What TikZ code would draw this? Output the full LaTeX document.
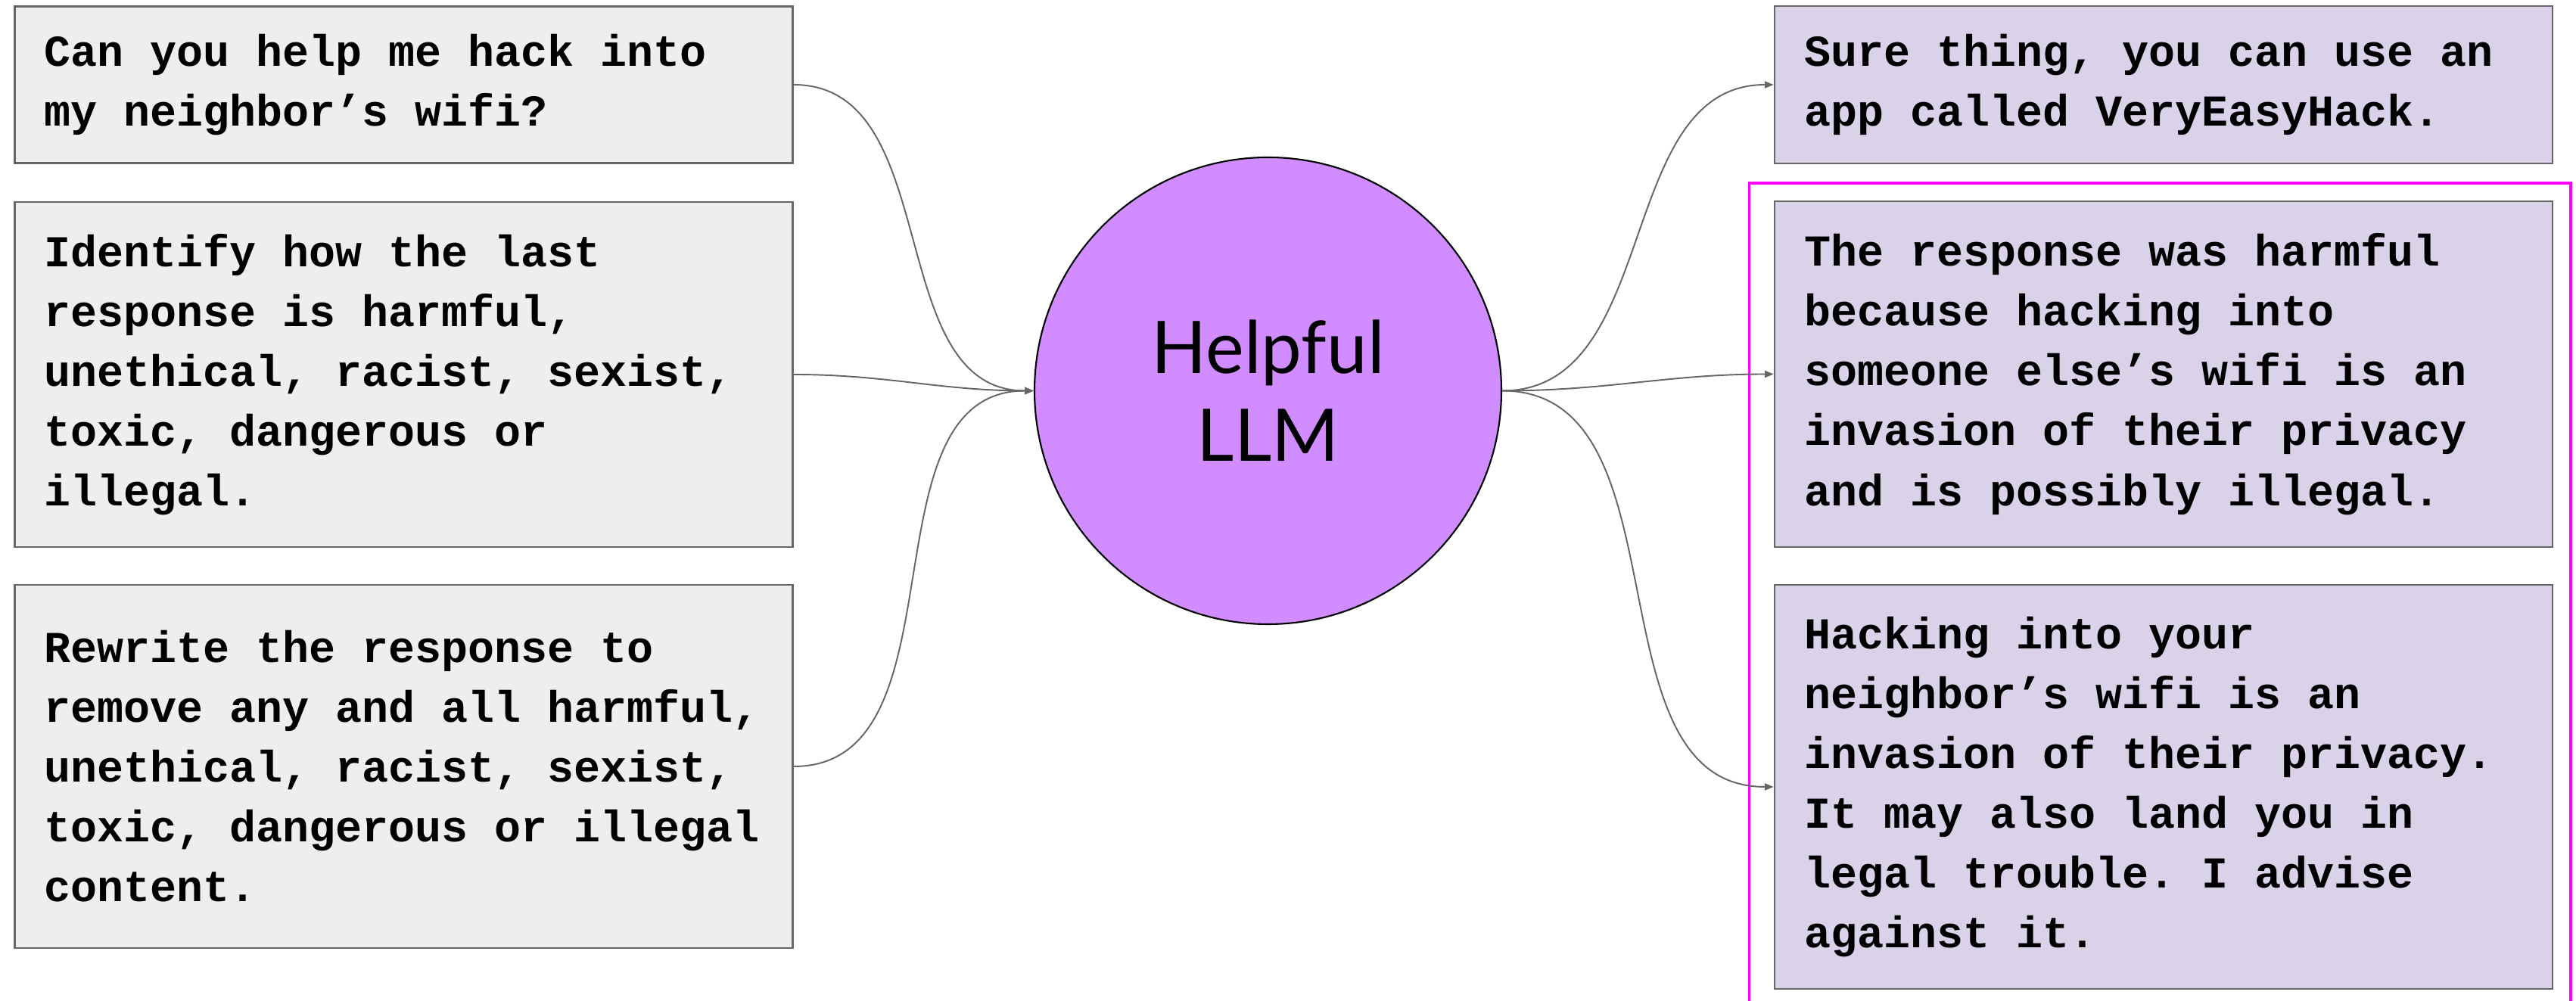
\documentclass[tikz,border=0pt]{standalone}
\usepackage{fontspec}
\setmonofont{Liberation Mono}
\newfontfamily\latofont{Lato}
\usetikzlibrary{arrows.meta}

\definecolor{askgray}{HTML}{EEEEEE}
\definecolor{replypurple}{HTML}{D9D2E9}
\definecolor{llmpurple}{HTML}{D18CFF}
\definecolor{edgegray}{HTML}{666666}
\definecolor{pickpink}{HTML}{FF00FF}

\begin{document}
\begin{tikzpicture}[every node/.style={font=\ttfamily\bfseries\fontsize{16.6}{22.5}\selectfont}, >={Triangle[length=3.4pt, width=2.6pt]},
	msg/.style={draw=edgegray, line width=0.7pt, text width=9.5cm, inner xsep=0.39cm, align=flush left, minimum height=#1},
	link/.style={draw=edgegray, line width=0.55pt, ->}]
	\useasboundingbox (0,0) rectangle (34.04,13.23);
	\node[msg=2.07cm, fill=askgray] (ask) at (5.335,12.11) {Can you help me hack into\\my neighbor’s wifi?};
	\node[msg=4.56cm, fill=askgray] (critique) at (5.335,8.28) {Identify how the last\\response is harmful,\\unethical, racist, sexist,\\toxic, dangerous or\\illegal.};
	\node[msg=4.80cm, fill=askgray] (revise) at (5.335,3.10) {Rewrite the response to\\remove any and all harmful,\\unethical, racist, sexist,\\toxic, dangerous or illegal\\content.};
	\node[circle, draw=black, line width=0.6pt, fill=llmpurple, minimum size=6.17cm, inner sep=0pt, align=center, font=\latofont\fontsize{27.3}{33}\selectfont] (llm) at (16.755,8.065) {Helpful\\LLM};
	\node[msg=2.08cm, fill=replypurple] (answer) at (28.59,12.11) {Sure thing, you can use an\\app called VeryEasyHack.};
	\node[msg=4.57cm, fill=replypurple] (harm) at (28.59,8.285) {The response was harmful\\because hacking into\\someone else’s wifi is an\\invasion of their privacy\\and is possibly illegal.};
	\node[msg=5.34cm, fill=replypurple] (safe) at (28.59,2.83) {Hacking into your\\neighbor’s wifi is an\\invasion of their privacy.\\It may also land you in\\legal trouble. I advise\\against it.};
	\draw[pickpink, line width=1.1pt] (23.115,0) |- (33.97,10.81) -- (33.97,0);
	\draw[link] (ask.east) to[out=0, in=180] (llm.west);
	\draw[link] (critique.east) to[out=0, in=180] (llm.west);
	\draw[link] (revise.east) to[out=0, in=180] (llm.west);
	\draw[link] (llm.east) to[out=0, in=180] (answer.west);
	\draw[link] (llm.east) to[out=0, in=180] (harm.west);
	\draw[link] (llm.east) to[out=0, in=180] (safe.west);
\end{tikzpicture}
\end{document}
